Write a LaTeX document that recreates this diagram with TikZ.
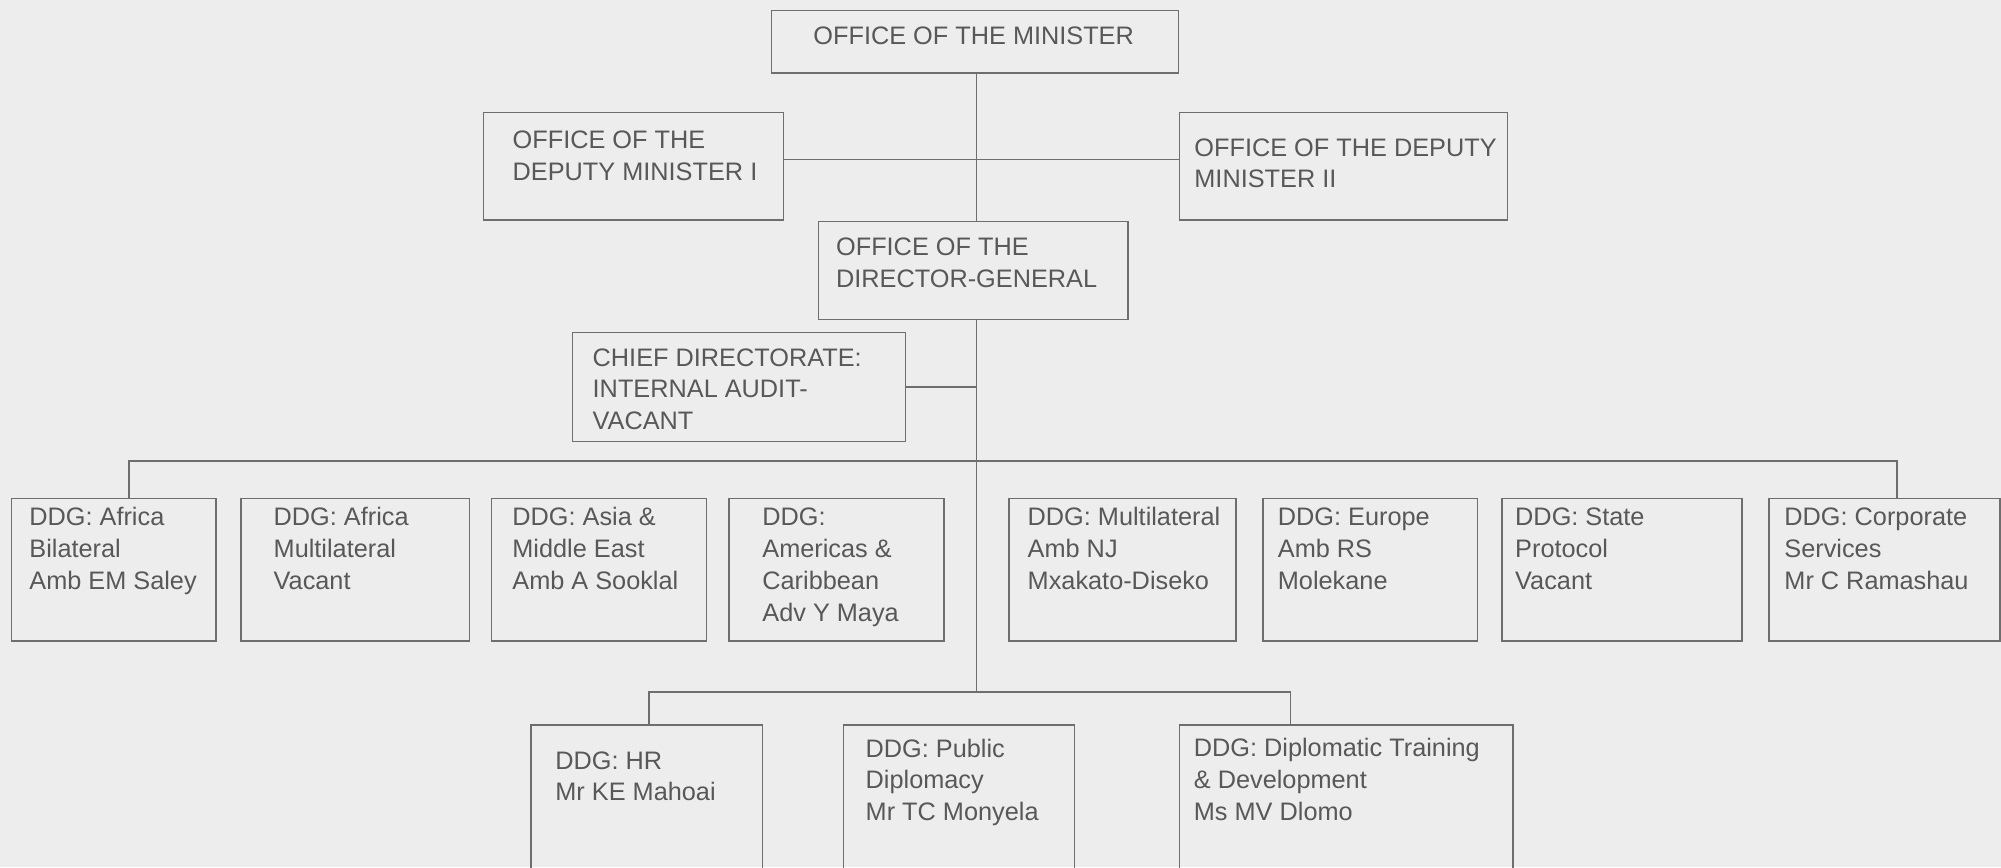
\documentclass[tikz,border=0pt]{standalone}
\usepackage{fontspec}
\setmainfont{Liberation Sans}
\usetikzlibrary{fit}
\definecolor{bgc}{HTML}{ECEDEC}
\definecolor{lnc}{HTML}{6E6E6E}
\definecolor{txtc}{HTML}{585858}
\newcommand\mylines[1]{\parbox[t]{400pt}{\raggedright #1}}
\begin{document}
\begin{tikzpicture}[x=0.5pt,y=-0.5pt,
  ob/.style={draw=lnc, line width=0.7pt, inner sep=0pt},
  lbl/.style={anchor=base west, inner sep=0pt, text=txtc, font=\fontsize{12.65}{15.9}\selectfont},
  conn/.style={draw=lnc, line width=0.7pt}]
\fill[bgc] (0,0) rectangle (2001,867);
\useasboundingbox (0,0) rectangle (2001,867);
\clip (0,0) rectangle (2001,867);

% top level
\node[ob, fit={(771.7,10.3)(1178.7,73)}] (min) {};
\node[lbl] (tmin) at (813,44) {\mylines{OFFICE OF THE MINISTER}};
\node[ob, fit={(483.3,112.7)(783.3,220)}] (dep1) {};
\node[lbl] (tdep1) at (512.3,148.3) {\mylines{OFFICE OF THE\\DEPUTY MINISTER I}};
\node[ob, fit={(1179.7,112.7)(1507.3,220)}] (dep2) {};
\node[lbl] (tdep2) at (1194,156) {\mylines{OFFICE OF THE DEPUTY\\MINISTER II}};
\node[ob, fit={(818.7,221.3)(1128,319.3)}] (dg) {};
\node[lbl] (tdg) at (835.7,255.7) {\mylines{OFFICE OF THE\\DIRECTOR-GENERAL}};
\node[ob, fit={(572.7,332.7)(905.3,441.3)}] (chief) {};
\node[lbl] (tchief) at (592.3,366) {\mylines{CHIEF DIRECTORATE:\\INTERNAL AUDIT-\\VACANT}};

% row of DDGs
\node[ob, fit={(11.7,498.7)(216,641)}] (b1) {};
\node[lbl] (t1) at (29,525.7) {\mylines{DDG: Africa\\Bilateral\\Amb EM Saley}};
\node[ob, fit={(241,498.7)(469.7,641)}] (b2) {};
\node[lbl] (t2) at (273.3,525.7) {\mylines{DDG: Africa\\Multilateral\\Vacant}};
\node[ob, fit={(491.7,498.7)(706.6,641)}] (b3) {};
\node[lbl] (t3) at (512,525.7) {\mylines{DDG: Asia \&\\Middle East\\Amb A Sooklal}};
\node[ob, fit={(729,498.7)(944,641)}] (b4) {};
\node[lbl] (t4) at (762,525.7) {\mylines{DDG:\\Americas \&\\Caribbean\\Adv Y Maya}};
\node[ob, fit={(1009,498.7)(1236,641)}] (b5) {};
\node[lbl] (t5) at (1027.3,525.7) {\mylines{DDG: Multilateral\\Amb NJ\\Mxakato-Diseko}};
\node[ob, fit={(1263,498.7)(1477.5,641)}] (b6) {};
\node[lbl] (t6) at (1277.5,525.7) {\mylines{DDG: Europe\\Amb RS\\Molekane}};
\node[ob, fit={(1502,498.7)(1742,641)}] (b7) {};
\node[lbl] (t7) at (1514.8,525.7) {\mylines{DDG: State\\Protocol\\Vacant}};
\node[ob, fit={(1768.8,498.7)(2000,641)}] (b8) {};
\node[lbl] (t8) at (1784,525.7) {\mylines{DDG: Corporate\\Services\\Mr C Ramashau}};

% bottom row
\node[ob, fit={(531,725)(762.7,900)}] (hr) {};
\node[lbl] (thr) at (555,769) {\mylines{DDG: HR\\Mr KE Mahoai}};
\node[ob, fit={(843.3,725)(1074.7,900)}] (pd) {};
\node[lbl] (tpd) at (865.3,757) {\mylines{DDG: Public\\Diplomacy\\Mr TC Monyela}};
\node[ob, fit={(1179.4,725)(1512.8,900)}] (dtd) {};
\node[lbl] (tdtd) at (1193.5,756.7) {\mylines{DDG: Diplomatic Training\\\& Development\\Ms MV Dlomo}};

% connector coordinates
\coordinate (trunk) at (976.5,0);
\coordinate (hy) at (0,159.7);
\coordinate (busL) at (129,461);
\coordinate (busR) at (1897,461);
\coordinate (lbL) at (649,692);
\coordinate (lbR) at (1290.5,692);

% connectors
\draw[conn] (trunk |- min.south) -- (trunk |- dg.north);
\draw[conn] (dep1.east |- hy) -- (dep2.west |- hy);
\draw[conn] (chief.east) -- (trunk |- chief.east);
\draw[conn] (trunk |- dg.south) -- (trunk |- lbL);
\draw[conn] (b1.north -| busL) -- (busL) -- (busR) -- (b8.north -| busR);
\draw[conn] (hr.north -| lbL) -- (lbL) -- (lbR) -- (dtd.north -| lbR);
\end{tikzpicture}
\end{document}
